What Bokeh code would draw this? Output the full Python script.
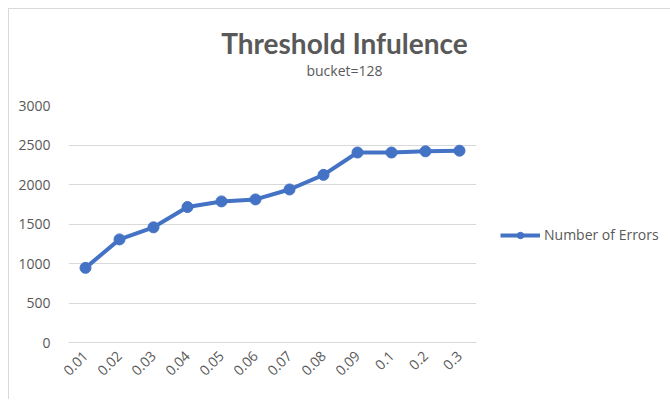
from bokeh.plotting import figure
from bokeh.models import FactorRange, Range1d, FixedTicker, Legend, LegendItem
from bokeh.layouts import column, row
from bokeh.core.properties import value
from bokeh.embed import file_html
from bokeh.resources import INLINE
import math

thresholds = ["0.01", "0.02", "0.03", "0.04", "0.05", "0.06", "0.07", "0.08", "0.09", "0.1", "0.2", "0.3"]
errors = [945, 1305, 1458, 1715, 1786, 1811, 1937, 2122, 2405, 2405, 2420, 2428]
y_ticks = [0, 500, 1000, 1500, 2000, 2500, 3000]
title_text = "Threshold Infulence"
subtitle_text = "bucket=128"
series_name = "Number of Errors"

FONT = "Open Sans"
TITLE_FONT = "Lato"
GREY = "#595959"
BLUE = "#4472C4"

# --- title strip (page pixel coordinates) ---
t = figure(width=661, height=70, output_backend="svg", toolbar_location=None,
           x_range=Range1d(9, 670), y_range=Range1d(79, 9),
           x_axis_type=None, y_axis_type=None, min_border=0)
t.outline_line_color = None
t.grid.grid_line_color = None
t.text(x=[344], y=[42], text=[title_text], text_font=value(TITLE_FONT), text_font_size="28px",
       text_font_style="bold", text_color=GREY, text_align="center", text_baseline="middle")
t.text(x=[344], y=[70], text=[subtitle_text], text_font=value(FONT), text_font_size="14px",
       text_color=GREY, text_align="center", text_baseline="middle")

# --- main chart ---
p = figure(width=470, height=320, output_backend="svg", toolbar_location=None,
           x_range=FactorRange(*thresholds, range_padding=0),
           y_range=Range1d(0, 3000),
           min_border_left=59, min_border_right=3, min_border_top=26, min_border_bottom=57)
p.outline_line_color = None
p.xgrid.grid_line_color = None
p.ygrid.grid_line_color = "#d9d9d9"
p.ygrid.grid_line_width = 1
p.yaxis.ticker = FixedTicker(ticks=y_ticks)
p.yaxis.axis_line_color = None
p.yaxis.major_tick_line_color = None
p.yaxis.minor_tick_line_color = None
p.yaxis.major_label_standoff = 12
p.xaxis.axis_line_color = "#d9d9d9"
p.xaxis.major_tick_line_color = None
p.xaxis.minor_tick_line_color = None
p.xaxis.major_label_orientation = math.pi / 4
p.xaxis.major_label_standoff = 5
for ax in (p.xaxis, p.yaxis):
    ax.major_label_text_font = FONT
    ax.major_label_text_font_size = "14px"
    ax.major_label_text_color = GREY

p.line(thresholds, errors, line_color=BLUE, line_width=4)
p.scatter(thresholds, errors, size=11, fill_color=BLUE, line_color=BLUE)

# --- legend panel ---
lg = figure(width=190, height=320, output_backend="svg", toolbar_location=None,
            x_range=Range1d(0, 1), y_range=Range1d(0, 1),
            x_axis_type=None, y_axis_type=None, min_border=0)
lg.outline_line_color = None
lg.grid.grid_line_color = None
# off-range proxies so the legend can draw its sample glyph
l_line = lg.line(x=[-5, -4], y=[-5, -4], line_color=BLUE, line_width=4)
l_pts = lg.scatter(x=[-5], y=[-5], size=11, fill_color=BLUE, line_color=BLUE)
legend = Legend(items=[LegendItem(label=series_name, renderers=[l_line, l_pts])],
                location=(21, 98), glyph_width=40, glyph_height=16,
                label_text_font=FONT, label_text_font_size="14px", label_text_color=GREY,
                border_line_color=None, background_fill_alpha=0, label_standoff=4,
                padding=0, margin=0)
lg.add_layout(legend, "center")

layout = column(t, row(p, lg))
layout.styles = {"margin-left": "8px", "margin-top": "8px",
                 "border-top": "1px solid #d9d9d9", "border-left": "1px solid #d9d9d9"}

open("out.html", "w").write(file_html(layout, INLINE))
